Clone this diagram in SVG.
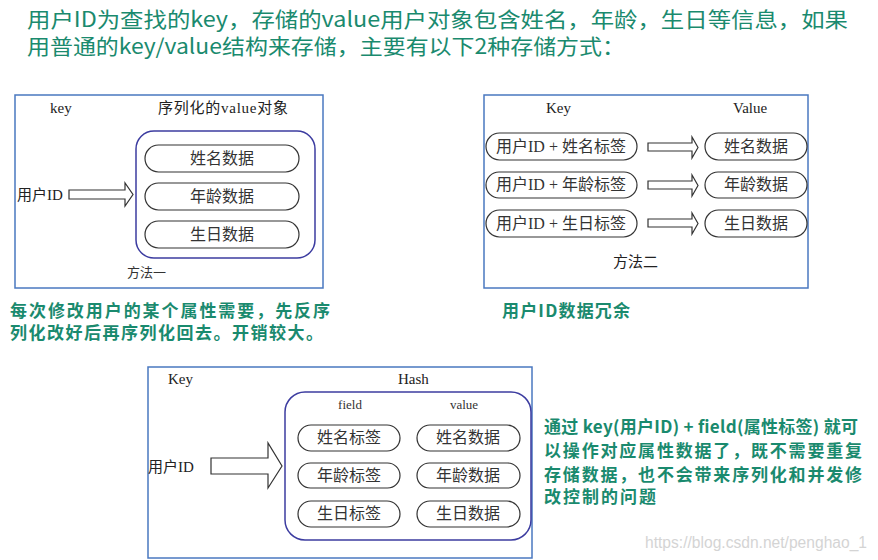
<svg xmlns="http://www.w3.org/2000/svg" width="878" height="560" viewBox="0 0 878 560">
<style>
.hd{font-family:"Noto Sans CJK SC","Noto Sans",sans-serif;fill:#1a8a6e;font-size:21px}
.gn{font-family:"Noto Sans CJK SC","Noto Sans",sans-serif;fill:#1a8a6e;font-size:17px;font-weight:bold}
.frame{fill:#fff;stroke:#4a78c0;stroke-width:1.5}
.inner{fill:#fff;stroke:#3c3ca0;stroke-width:1.5}
.pill{fill:#fff;stroke:#333;stroke-width:1.2}
.arr{fill:#fff;stroke:#333;stroke-width:1.2}
.t{font-family:"Liberation Serif","Noto Sans CJK SC",serif;fill:#222;font-size:15px}
.tc{font-family:"Liberation Serif","Noto Sans CJK SC",serif;fill:#333;font-size:16px;text-anchor:middle}
.sm{font-family:"Liberation Serif","Noto Sans CJK SC",serif;fill:#333;font-size:13px}
.wm{font-family:"Liberation Sans",sans-serif;fill:#d4d4d4;font-size:16px}
</style>
<rect width="878" height="560" fill="#fff"/>
<g id="title">
<text class="hd" x="27" y="27" textLength="821" lengthAdjust="spacingAndGlyphs">用户ID为查找的key，存储的value用户对象包含姓名，年龄，生日等信息，如果</text>
<text class="hd" x="27" y="54" textLength="598" lengthAdjust="spacingAndGlyphs">用普通的key/value结构来存储，主要有以下2种存储方式：</text>
</g>
<g id="method1">
<rect class="frame" x="15" y="95" width="308" height="193"/>
<text class="t" x="50" y="113">key</text>
<text class="t" x="158" y="113" textLength="130">序列化的value对象</text>
<rect class="inner" x="136" y="131" width="179" height="127" rx="18"/>
<g id="m1-name"><rect class="pill" x="145" y="145" width="154" height="27" rx="13.5"/><text class="tc" x="222" y="164">姓名数据</text></g>
<g id="m1-age"><rect class="pill" x="145" y="183" width="154" height="27" rx="13.5"/><text class="tc" x="222" y="202">年龄数据</text></g>
<g id="m1-bday"><rect class="pill" x="145" y="221" width="154" height="27" rx="13.5"/><text class="tc" x="222" y="240">生日数据</text></g>
<text class="t" x="17" y="200">用户ID</text>
<text class="sm" x="127" y="277">方法一</text>
</g>
<g id="method2">
<rect class="frame" x="484" y="95" width="324" height="193"/>
<text class="t" x="546" y="113">Key</text>
<text class="t" x="733" y="113">Value</text>
<g id="m2-k1"><rect class="pill" x="486" y="133" width="151" height="27" rx="13.5"/><text class="tc" x="561" y="152">用户ID + 姓名标签</text></g>
<g id="m2-k2"><rect class="pill" x="486" y="172" width="151" height="26" rx="13"/><text class="tc" x="561" y="190">用户ID + 年龄标签</text></g>
<g id="m2-k3"><rect class="pill" x="486" y="210" width="151" height="27" rx="13.5"/><text class="tc" x="561" y="229">用户ID + 生日标签</text></g>
<g id="m2-v1"><rect class="pill" x="705" y="133" width="102" height="27" rx="13.5"/><text class="tc" x="756" y="152">姓名数据</text></g>
<g id="m2-v2"><rect class="pill" x="705" y="172" width="102" height="26" rx="13"/><text class="tc" x="756" y="190">年龄数据</text></g>
<g id="m2-v3"><rect class="pill" x="705" y="210" width="102" height="27" rx="13.5"/><text class="tc" x="756" y="229">生日数据</text></g>
<text class="t" x="613" y="267">方法二</text>
</g>
<g id="method3">
<rect class="frame" x="148" y="367" width="384" height="191"/>
<text class="t" x="168" y="384">Key</text>
<text class="t" x="398" y="384">Hash</text>
<rect class="inner" x="285" y="392" width="246" height="148" rx="20"/>
<text class="sm" x="350" y="409" text-anchor="middle">field</text>
<text class="sm" x="464" y="409" text-anchor="middle">value</text>
<g id="m3-f1"><rect class="pill" x="298" y="425" width="102" height="26" rx="13"/><text class="tc" x="349" y="443">姓名标签</text></g>
<g id="m3-f2"><rect class="pill" x="298" y="463" width="102" height="25" rx="12.5"/><text class="tc" x="349" y="481">年龄标签</text></g>
<g id="m3-f3"><rect class="pill" x="298" y="501" width="102" height="26" rx="13"/><text class="tc" x="349" y="519">生日标签</text></g>
<g id="m3-v1"><rect class="pill" x="417" y="425" width="103" height="26" rx="13"/><text class="tc" x="468" y="443">姓名数据</text></g>
<g id="m3-v2"><rect class="pill" x="417" y="463" width="103" height="25" rx="12.5"/><text class="tc" x="468" y="481">年龄数据</text></g>
<g id="m3-v3"><rect class="pill" x="417" y="501" width="103" height="26" rx="13"/><text class="tc" x="468" y="519">生日数据</text></g>
<text class="t" x="148" y="472">用户ID</text>
</g>
<g id="connectors">
<polygon class="arr" points="69,190 125,190 125,183 133,194.5 125,206 125,199 69,199"/>
<polygon class="arr" points="648,143 692,143 692,137 698,147.5 692,158 692,151 648,151"/>
<polygon class="arr" points="648,181 692,181 692,175 698,185.5 692,196 692,189 648,189"/>
<polygon class="arr" points="648,219 692,219 692,213 698,223.5 692,234 692,227 648,227"/>
<polygon class="arr" points="211,458 268,458 268,443 282,466 268,488 268,474 211,474"/>
</g>
<g id="notes">
<text class="gn" x="10" y="317" textLength="320">每次修改用户的某个属性需要，先反序</text>
<text class="gn" x="10" y="339" textLength="313">列化改好后再序列化回去。开销较大。</text>
<text class="gn" x="502" y="317" textLength="128">用户ID数据冗余</text>
<text class="gn" x="544" y="433" textLength="314">通过 key(用户ID) + field(属性标签) 就可</text>
<text class="gn" x="544" y="457" textLength="318">以操作对应属性数据了，既不需要重复</text>
<text class="gn" x="544" y="481" textLength="318">存储数据，也不会带来序列化和并发修</text>
<text class="gn" x="544" y="503" textLength="112">改控制的问题</text>
</g>
<text class="wm" x="645" y="548" textLength="222" lengthAdjust="spacingAndGlyphs">https://blog.csdn.net/penghao_1</text>
</svg>
